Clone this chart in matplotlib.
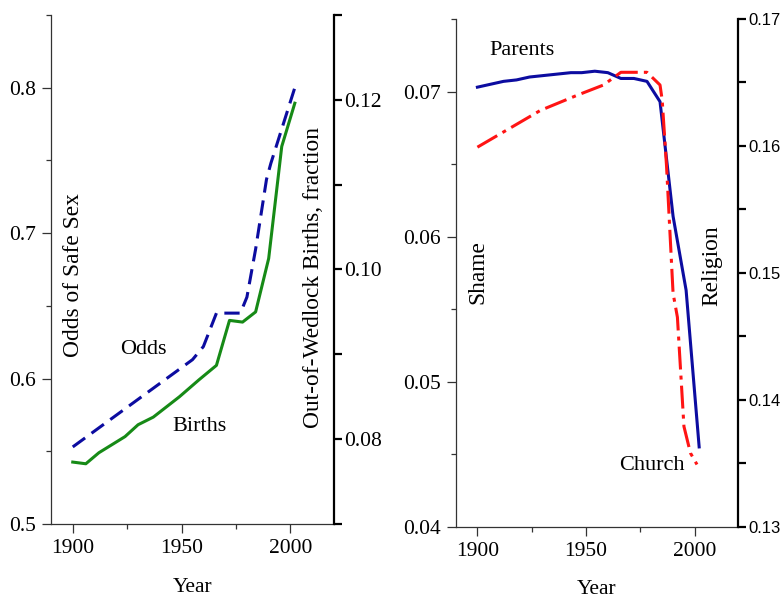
import numpy as np
import matplotlib
matplotlib.use("Agg")
import matplotlib.pyplot as plt
from matplotlib.ticker import MultipleLocator

plt.rcParams['font.family'] = ['Liberation Serif', 'DejaVu Serif']

# left panel data
odds_years = [1900, 1955, 1960, 1966, 1977, 1980, 1984, 1989, 1991, 2002]
odds_vals = [0.553, 0.613, 0.622, 0.645, 0.645, 0.656, 0.689, 0.737, 0.748, 0.800]

births_years = [1900, 1906, 1912, 1924, 1930, 1937, 1949, 1958, 1966, 1972, 1978, 1984, 1990, 1996, 2002]
births_vals = [0.0773, 0.0771, 0.0784, 0.0803, 0.0817, 0.0826, 0.0850, 0.0870, 0.0887,
               0.0940, 0.0938, 0.0950, 0.1013, 0.1145, 0.1196]

# right panel data
parents_years = [1900, 1912, 1918, 1924, 1943, 1948, 1954, 1960, 1966, 1972, 1978, 1984, 1990, 1996, 2002]
parents_vals = [0.0703, 0.0707, 0.0708, 0.0710, 0.0713, 0.0713, 0.0714, 0.0713, 0.0709,
                0.0709, 0.0707, 0.0693, 0.0614, 0.0563, 0.0455]

church_years = [1900, 1910, 1920, 1929, 1946, 1958, 1966, 1978, 1984, 1985, 1987, 1990, 1992, 1995, 1998, 2001]
church_vals = [0.1599, 0.1609, 0.1619, 0.1628, 0.1640, 0.1648, 0.1658, 0.1658, 0.1648,
               0.1636, 0.1584, 0.1484, 0.1465, 0.1379, 0.1358, 0.1349]

blue = "#0c0ca0"
green = "#168a16"
red = "#ff1414"
fs = 15.5
fs_rot = 16.8

fig = plt.figure(figsize=(7.82, 5.99), dpi=100)
ax1 = fig.add_axes([0.0652, 0.1252, 0.3619, 0.8498])
ax1r = ax1.twinx()
ax2 = fig.add_axes([0.5827, 0.1207, 0.3614, 0.8476])
ax2r = ax2.twinx()


def style(ax, axr, ylim, yrlim, ymaj, ymin, yrmaj, yrmin, rfont):
    ax.set_xlim(1890, 2020)
    ax.set_ylim(*ylim)
    axr.set_ylim(*yrlim)
    ax.xaxis.set_major_locator(MultipleLocator(50))
    ax.xaxis.set_minor_locator(MultipleLocator(25))
    ax.yaxis.set_major_locator(MultipleLocator(ymaj))
    ax.yaxis.set_minor_locator(MultipleLocator(ymin))
    axr.yaxis.set_major_locator(MultipleLocator(yrmaj))
    axr.yaxis.set_minor_locator(MultipleLocator(yrmin))
    for a in (ax, axr):
        a.spines['top'].set_visible(False)
    ax.spines['left'].set_color('#333333')
    ax.spines['left'].set_linewidth(0.9)
    ax.spines['bottom'].set_color('#333333')
    ax.spines['bottom'].set_linewidth(0.9)
    ax.spines['right'].set_visible(False)
    axr.spines['left'].set_visible(False)
    axr.spines['bottom'].set_visible(False)
    axr.spines['right'].set_color('black')
    axr.spines['right'].set_linewidth(1.6)
    ax.tick_params(axis='both', which='major', length=6.5, width=0.9, color='#333333',
                   labelsize=fs, pad=4.5)
    ax.tick_params(axis='both', which='minor', length=3.5, width=0.9, color='#333333')
    axr.tick_params(axis='y', which='both', length=6, width=1.6, color='black',
                    labelsize=rfont[1], pad=1.5)
    for lab in axr.get_yticklabels():
        lab.set_family(rfont[0])
    ax.set_xlabel("Year", fontsize=fs, labelpad=14)


style(ax1, ax1r, (0.5, 0.85), (0.07, 0.13), 0.1, 0.05, 0.02, 0.01, ('Liberation Serif', fs))
ax1.yaxis.set_major_formatter(plt.FuncFormatter(lambda v, p: "%.1f" % v))
ax1r.yaxis.set_major_formatter(plt.FuncFormatter(lambda v, p: "%.2f" % v))
ax1r.set_yticks([0.08, 0.10, 0.12])
ax1r.set_yticks([0.07, 0.09, 0.11, 0.13], minor=True)
ax1r.tick_params(axis='y', which='minor', length=6, width=1.6)

ax1.plot(odds_years, odds_vals, color=blue, lw=2.2, dashes=(5, 2.6))
ax1r.plot(births_years, births_vals, color=green, lw=2.2)
ax1.text(1932.4, 0.620, "Odds", fontsize=fs + 0.5, ha='center', va='center')
ax1.text(1958.4, 0.567, "Births", fontsize=fs + 0.5, ha='center', va='center')
ax1.text(0.078, 0.489, "Odds of Safe Sex", transform=ax1.transAxes, rotation=90,
         fontsize=fs_rot, ha='center', va='center')
ax1.text(0.926, 0.485, "Out-of-Wedlock Births, fraction", transform=ax1.transAxes,
         rotation=90, fontsize=fs_rot, ha='center', va='center')

style(ax2, ax2r, (0.04, 0.075), (0.13, 0.17), 0.01, 0.005, 0.01, 0.005, ('Liberation Sans', 12))
ax2.yaxis.set_major_formatter(plt.FuncFormatter(lambda v, p: "%.2f" % v))
ax2r.yaxis.set_major_formatter(plt.FuncFormatter(lambda v, p: "%.2f" % v))
ax2r.tick_params(axis='y', which='minor', length=6, width=1.6)
for lab in ax2r.get_yticklabels():
    lab.set_family('Liberation Sans')

ax2.plot(parents_years, parents_vals, color=blue, lw=2.2)
ax2r.plot(church_years, church_vals, color=red, lw=2.2, dashes=(7.5, 2, 1.3, 2))
ax2.text(1920.7, 0.0728, "Parents", fontsize=fs + 0.5, ha='center', va='center')
ax2.text(1980.3, 0.0442, "Church", fontsize=fs + 0.5, ha='center', va='center')
ax2.text(0.079, 0.502, "Shame", transform=ax2.transAxes, rotation=90,
         fontsize=fs_rot, ha='center', va='center')
ax2.text(0.907, 0.515, "Religion", transform=ax2.transAxes, rotation=90,
         fontsize=fs_rot, ha='center', va='center')

fig.savefig("out.png", dpi=100)
